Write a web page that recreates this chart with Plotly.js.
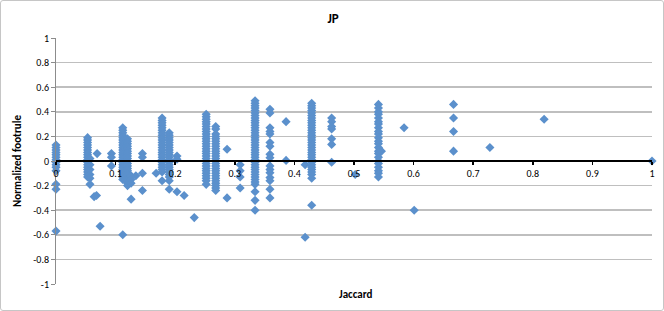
<!DOCTYPE html>
<html><head><meta charset="utf-8">
<script src="https://cdn.plot.ly/plotly-3.0.1.min.js"></script>
<style>
html,body{margin:0;padding:0;background:#fff;}
#wrap{position:relative;width:664px;height:311px;}
#chart{width:664px;height:311px;}
#frame{position:absolute;left:0;top:0;width:662px;height:309px;border:1px solid #c6c6c6;border-radius:3px;pointer-events:none;}
</style></head>
<body>
<div id="wrap"><div id="chart"></div><div id="frame"></div></div>
<script>
// Jaccard value of each column of points, and the normalized footrule values in that column
const jaccardColumns = [0, 0.053, 0.057, 0.064, 0.068, 0.069, 0.074, 0.093, 0.112, 0.12, 0.126, 0.134, 0.145, 0.168, 0.178, 0.19, 0.203, 0.215, 0.232, 0.252, 0.268, 0.287, 0.309, 0.334, 0.359, 0.386, 0.418, 0.429, 0.4625, 0.502, 0.541, 0.546, 0.584, 0.601, 0.667, 0.728, 0.819, 1];
const footruleColumns = [
  [0.13,0.11,0.09,0.07,0.05,0.03,0.01,-0.01,-0.03,-0.05,-0.08,-0.19,-0.23,-0.57],
  [0.19,0.17,0.15,0.13,0.11,0.09,0.07,0.05,0.03,0.01,-0.01,-0.03,-0.05,-0.07,-0.09,-0.11,-0.13],
  [0.02,-0.03,-0.07,-0.11,-0.14,-0.19],
  [-0.29],
  [-0.28],
  [0.06],
  [-0.53],
  [0.06,0.03,-0.04],
  [0.27,0.25,0.23,0.21,0.19,0.17,0.15,0.13,0.11,0.09,0.07,0.05,0.03,0.01,-0.01,-0.03,-0.05,-0.07,-0.09,-0.11,-0.13,-0.15,-0.60],
  [0.18,0.16,0.14,0.12,0.10,0.08,0.06,0.04,0.02,0.00,-0.02,-0.04,-0.06,-0.08,-0.10,-0.12,-0.14,-0.16,-0.18,-0.20],
  [-0.12,-0.15,-0.18,-0.31],
  [-0.12],
  [0.06,0.03,-0.10,-0.24],
  [-0.10],
  [0.35,0.33,0.31,0.29,0.27,0.25,0.23,0.21,0.19,0.17,0.15,0.13,0.11,0.09,0.07,0.05,0.03,0.01,-0.01,-0.03,-0.05,-0.07,-0.09,-0.16],
  [0.23,0.21,0.19,0.17,0.15,0.13,0.11,0.09,0.07,0.05,0.03,0.01,-0.01,-0.03,-0.05,-0.07,-0.09,-0.11,-0.13,-0.16,-0.23],
  [0.04,0.015,-0.25],
  [-0.28],
  [-0.46],
  [0.38,0.36,0.34,0.32,0.30,0.28,0.26,0.24,0.22,0.20,0.18,0.16,0.14,0.12,0.10,0.08,0.06,0.04,0.02,0.00,-0.02,-0.04,-0.06,-0.08,-0.10,-0.12,-0.14,-0.16,-0.19],
  [0.28,0.26,0.22,0.20,0.18,0.16,0.14,0.12,0.10,0.08,0.06,0.04,0.02,0.00,-0.02,-0.04,-0.06,-0.08,-0.10,-0.12,-0.14,-0.16,-0.18,-0.20,-0.22,-0.24],
  [0.095,-0.30],
  [-0.03,-0.08,-0.13,-0.22],
  [0.49,0.47,0.45,0.43,0.41,0.39,0.37,0.35,0.33,0.31,0.29,0.27,0.25,0.23,0.21,0.19,0.17,0.15,0.13,0.11,0.09,0.07,0.05,0.03,0.01,-0.01,-0.03,-0.05,-0.07,-0.09,-0.11,-0.13,-0.15,-0.17,-0.19,-0.25,-0.32,-0.40],
  [0.42,0.39,0.27,0.24,0.22,0.15,0.12,0.054,0.027,-0.04,-0.07,-0.095,-0.135,-0.16,-0.23,-0.30],
  [0.32,0.005],
  [-0.03,-0.62],
  [0.47,0.45,0.43,0.41,0.39,0.37,0.35,0.33,0.31,0.29,0.27,0.25,0.23,0.21,0.19,0.17,0.15,0.13,0.11,0.09,0.07,0.05,0.03,0.01,-0.01,-0.03,-0.05,-0.07,-0.09,-0.11,-0.14,-0.36],
  [0.35,0.32,0.28,0.26,0.18,0.135,-0.01],
  [-0.11],
  [0.46,0.43,0.40,0.38,0.35,0.32,0.30,0.27,0.24,0.22,0.19,0.16,0.14,0.11,0.08,0.06,0.03,0.00,-0.02,-0.05,-0.08,-0.10,-0.13],
  [0.08],
  [0.27],
  [-0.40],
  [0.46,0.35,0.24,0.08],
  [0.11],
  [0.34],
  [0.00]
];
const xTickVals = [0,0.1,0.2,0.3,0.4,0.5,0.6,0.7,0.8,0.9,1];
const xTickText = ['0','0.1','0.2','0.3','0.4','0.5','0.6','0.7','0.8','0.9','1'];
const yTickVals = [-1,-0.8,-0.6,-0.4,-0.2,0,0.2,0.4,0.6,0.8,1];
const yTickText = ['-1','-0.8','-0.6','-0.4','-0.2','0','0.2','0.4','0.6','0.8','1'];

const xs = [], ys = [];
jaccardColumns.forEach((j, i) => {
  footruleColumns[i].forEach(v => { xs.push(j); ys.push(v); });
});

const FONT = 'Carlito, Lato, "Liberation Sans", sans-serif';
const W = 664, H = 311, L = 56, R = 12, T = 38, B = 27;
const pw = W - L - R, ph = H - T - B;

Plotly.newPlot('chart', [{
  type: 'scatter', mode: 'markers', x: xs, y: ys,
  marker: {symbol: 'diamond', size: 7, color: '#5B90CC', line: {width: 0}},
  cliponaxis: false, hoverinfo: 'skip'
}], {
  width: W, height: H,
  margin: {l: L, r: R, t: T, b: B, pad: 0},
  paper_bgcolor: '#fff', plot_bgcolor: '#fff',
  showlegend: false,
  font: {family: FONT, size: 10, color: '#000'},
  title: {text: '<b>JP</b>', x: 333 / W, xref: 'container', xanchor: 'center',
          y: 1 - 18 / H, yref: 'container', yanchor: 'middle',
          font: {family: FONT, size: 13, color: '#000'}},
  xaxis: {range: [0, 1], tickvals: xTickVals, ticktext: xTickText,
          anchor: 'free', position: 0.5, showgrid: false, zeroline: false,
          showline: true, linecolor: '#000', linewidth: 2,
          ticks: 'outside', ticklen: 3, tickwidth: 1.5, tickcolor: '#000',
          tickfont: {family: FONT, size: 10, color: '#000'}, fixedrange: true},
  yaxis: {range: [-1, 1], tickvals: yTickVals, ticktext: yTickText,
          showgrid: true, gridcolor: '#BFBFBF', gridwidth: 1.5,
          zeroline: true, zerolinecolor: '#000', zerolinewidth: 2.5,
          showline: true, linecolor: '#8C8C8C', linewidth: 1,
          ticks: 'outside', ticklen: 4, tickcolor: '#8C8C8C',
          tickfont: {family: FONT, size: 10, color: '#000'}, fixedrange: true},
  annotations: [
    {text: '<b>Normalized footrule</b>', xref: 'paper', yref: 'paper',
     x: (17 - L) / pw, y: 0.5, xanchor: 'center', yanchor: 'middle',
     textangle: -90, showarrow: false, font: {family: FONT, size: 11, color: '#000'}},
    {text: '<b>Jaccard</b>', xref: 'paper', yref: 'paper',
     x: (355 - L) / pw, y: (T + ph - 294) / ph + 0, xanchor: 'center', yanchor: 'middle',
     showarrow: false, font: {family: FONT, size: 11, color: '#000'}}
  ]
}, {displayModeBar: false, staticPlot: true});
</script>
</body></html>
